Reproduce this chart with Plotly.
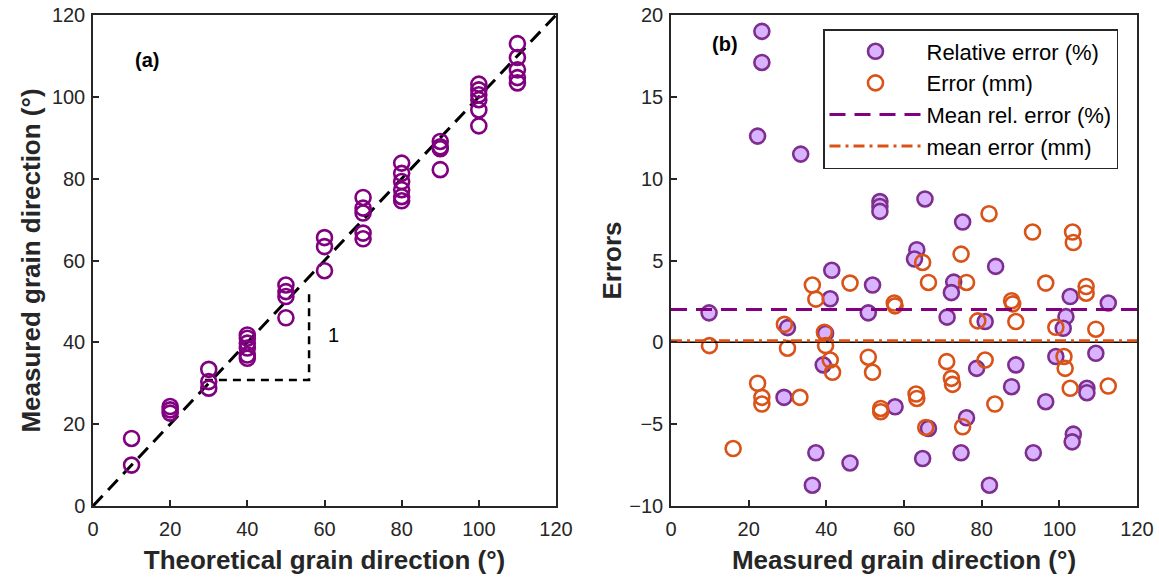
import plotly.graph_objects as go

# ---------- Panel (a) data ----------
theo_x = [10, 10,
          20, 20, 20,
          30, 30, 30,
          40, 40, 40, 40, 40, 40,
          50, 50, 50, 50,
          60, 60, 60,
          70, 70, 70, 70, 70,
          80, 80, 80, 80, 80, 80,
          90, 90, 90, 90,
          100, 100, 100, 100, 100, 100,
          110, 110, 110, 110, 110]
meas_y = [16.5, 10.0,
          24.3, 23.5, 22.7,
          33.4, 30.4, 28.8,
          41.8, 41.0, 39.8, 38.6, 36.9, 36.1,
          54.0, 52.4, 51.2, 46.0,
          65.6, 63.4, 57.5,
          75.4, 72.8, 71.6, 66.7, 65.3,
          83.8, 81.3, 79.3, 77.3, 75.6, 74.6,
          89.1, 87.8, 87.3, 82.2,
          103.1, 101.7, 100.5, 99.3, 96.8, 92.9,
          113.0, 109.6, 106.6, 104.7, 103.4]
ref_line_x = [0, 120]
ref_line_y = [0, 120]
tri_x = [29, 56, 56]
tri_y = [30.8, 30.8, 53.0]

# ---------- Panel (b) data ----------
rel_x = [23.4, 23.4, 22.3, 33.4, 9.8, 30.0, 41.4, 41.0, 39.8, 51.9, 50.8, 53.8, 53.8, 53.8,
         65.4, 63.3, 62.7, 75.1, 72.8, 72.2, 71.1, 83.6, 80.9, 102.8, 101.7, 101.0, 112.6,
         39.2, 29.1, 57.7, 66.3, 78.7, 76.1, 88.8, 87.7, 96.5, 99.1, 109.4, 107.1, 107.1,
         103.6, 103.3, 37.3, 36.4, 46.1, 64.8, 74.7, 93.3, 82.0]
rel_y = [19.0, 17.1, 12.6, 11.5, 1.8, 0.9, 4.4, 2.66, 0.55, 3.5, 1.8, 8.6, 8.3, 8.0,
         8.76, 5.66, 5.09, 7.35, 3.68, 3.04, 1.54, 4.64, 1.27, 2.8, 1.57, 0.86, 2.4,
         -1.38, -3.36, -3.94, -5.26, -1.59, -4.61, -1.38, -2.71, -3.63, -0.87, -0.67, -2.81, -3.08,
         -5.61, -6.08, -6.75, -8.73, -7.37, -7.1, -6.75, -6.75, -8.73]
err_x = [9.9, 29.2, 30.0, 36.4, 37.3, 39.5, 39.8, 41.0, 41.6, 46.1, 57.5, 57.7, 64.8, 66.3,
         74.7, 76.1, 81.9, 79.0, 87.7, 88.0, 88.8, 93.1, 96.5, 103.4, 103.6, 106.9, 106.9,
         99.1, 109.4, 50.8, 51.9, 22.3, 23.4, 23.4, 33.2, 16.0, 54.0, 54.0, 63.1, 63.3, 65.6,
         71.0, 72.2, 72.5, 80.9, 75.1, 83.4, 101.2, 101.5, 102.8, 112.6]
err_y = [-0.2, 1.1, -0.36, 3.5, 2.64, 0.62, -0.2, -1.08, -1.83, 3.62, 2.4, 2.23, 4.88, 3.66,
         5.39, 3.66, 7.86, 1.31, 2.54, 2.35, 1.27, 6.74, 3.62, 6.74, 6.1, 3.41, 3.0,
         0.92, 0.8, -0.91, -1.83, -2.5, -3.36, -3.77, -3.36, -6.49, -4.04, -4.24, -3.16, -3.43, -5.2,
         -1.18, -2.2, -2.57, -1.08, -5.16, -3.77, -0.87, -1.59, -2.81, -2.67]
mean_rel = 2.0
mean_err = 0.1
x_range = [0, 120]

PURPLE = "#800080"
MPURPLE = "#7E2F8E"
LAV = "#D9B3FF"
ORANGE = "#D95319"
AX = "#262626"
FONT = "Liberation Sans, Arial, sans-serif"

fig = go.Figure()

# Panel (a)
fig.add_trace(go.Scatter(x=ref_line_x, y=ref_line_y, mode="lines", xaxis="x", yaxis="y",
                         line=dict(color="black", width=3, dash="14px,8px"), showlegend=False))
fig.add_trace(go.Scatter(x=tri_x, y=tri_y, mode="lines", xaxis="x", yaxis="y",
                         line=dict(color="black", width=2.5, dash="8px,6px"), showlegend=False))
fig.add_trace(go.Scatter(x=theo_x, y=meas_y, mode="markers", xaxis="x", yaxis="y",
                         marker=dict(symbol="circle-open", size=15, color=PURPLE,
                                     line=dict(width=2.6, color=PURPLE)),
                         showlegend=False))

# Panel (b)
fig.add_trace(go.Scatter(x=rel_x, y=rel_y, mode="markers", xaxis="x2", yaxis="y2",
                         name="Relative error (%)",
                         marker=dict(symbol="circle", size=15, color=LAV,
                                     line=dict(width=2.6, color=MPURPLE))))
fig.add_trace(go.Scatter(x=err_x, y=err_y, mode="markers", xaxis="x2", yaxis="y2",
                         name="Error (mm)",
                         marker=dict(symbol="circle-open", size=15, color=ORANGE,
                                     line=dict(width=2.6, color=ORANGE))))
fig.add_trace(go.Scatter(x=x_range, y=[0, 0], mode="lines", xaxis="x2", yaxis="y2",
                         line=dict(color="black", width=1.5), showlegend=False))
fig.add_trace(go.Scatter(x=x_range, y=[mean_rel, mean_rel], mode="lines", xaxis="x2", yaxis="y2",
                         name="Mean rel. error (%)",
                         line=dict(color=PURPLE, width=3, dash="16px,9px")))
fig.add_trace(go.Scatter(x=x_range, y=[mean_err, mean_err], mode="lines", xaxis="x2", yaxis="y2",
                         name="mean error (mm)",
                         line=dict(color=ORANGE, width=3, dash="11px,5px,3px,5px")))

W, H = 1159, 577
def fx(px):
    return px / W
def fy(py):
    return 1 - py / H

axis_common = dict(showline=True, mirror=True, linecolor=AX, linewidth=1.5,
                   ticks="inside", ticklen=6, tickcolor=AX, tickwidth=1.5,
                   showgrid=False, zeroline=False, automargin=False,
                   ticklabeloverflow="allow",
                   tickfont=dict(family=FONT, size=20, color=AX))
title_font = dict(family=FONT, size=26, color=AX)

fig.update_layout(
    width=W, height=H,
    margin=dict(l=0, r=0, t=0, b=0, autoexpand=False),
    paper_bgcolor="white", plot_bgcolor="white",
    font=dict(family=FONT, color=AX),
    xaxis=dict(domain=[fx(93), fx(556)], range=[0, 120], dtick=20, anchor="y",
               title=dict(text="<b>Theoretical grain direction (°)</b>", font=title_font, standoff=12),
               ticklabelstandoff=4, **axis_common),
    yaxis=dict(domain=[fy(506), fy(15)], range=[0, 120], dtick=20, anchor="x",
               title=dict(text="<b>Measured grain direction (°)</b>", font=title_font, standoff=4),
               ticklabelstandoff=2, **axis_common),
    xaxis2=dict(domain=[fx(671), fx(1137)], range=[0, 120], dtick=20, anchor="y2",
                title=dict(text="<b>Measured grain direction (°)</b>", font=title_font, standoff=12),
                ticklabelstandoff=4, **axis_common),
    yaxis2=dict(domain=[fy(506), fy(15)], range=[-10, 20], dtick=5, anchor="x2",
                title=dict(text="<b>Errors</b>", font=title_font, standoff=0),
                ticklabelstandoff=2, **axis_common),
    legend=dict(x=fx(823), y=fy(29), xanchor="left", yanchor="top",
                bgcolor="white", bordercolor=AX, borderwidth=1.5,
                font=dict(family=FONT, size=22, color="black"),
                itemwidth=92, tracegroupgap=0),
    annotations=[
        dict(text="<b>(a)</b>", x=14, y=109, xref="x", yref="y", showarrow=False,
             font=dict(family=FONT, size=20, color="black")),
        dict(text="<b>(b)</b>", x=14, y=18.2, xref="x2", yref="y2", showarrow=False,
             font=dict(family=FONT, size=20, color="black")),
        dict(text="1", x=62.3, y=41.8, xref="x", yref="y", showarrow=False,
             font=dict(family=FONT, size=20, color="black")),
    ],
)

# remove the browser's default 8px body margin so the figure sits at the page origin
fig.write_html("out.html", config={"displayModeBar": False},
               post_script="document.body.style.margin='0';")
